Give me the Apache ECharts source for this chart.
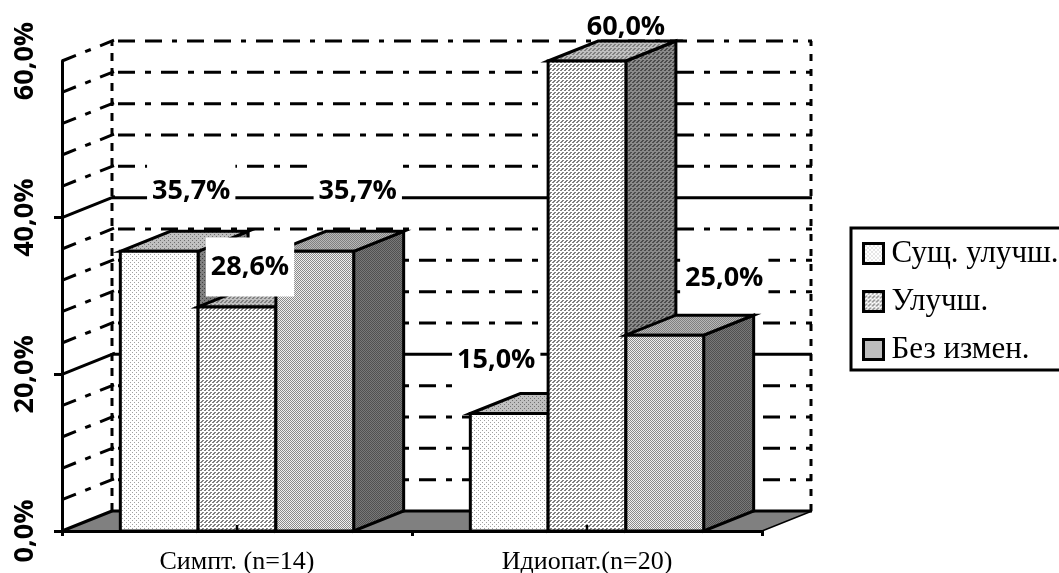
<!DOCTYPE html>
<html><head><meta charset="utf-8">
<style>html,body{margin:0;padding:0;background:#fff}#c{width:1059px;height:573px}</style>
<script src="https://cdn.jsdelivr.net/npm/echarts@6/dist/echarts.min.js"></script>
</head><body><div id="c"></div>
<script>
const categories = ['Симпт. (n=14)', 'Идиопат.(n=20)'];
const seriesNames = ['Сущ. улучш.', 'Улучш.', 'Без измен.'];
const strongImprovement = [35.7, 15.0];
const improvement = [28.6, 60.0];
const noChange = [35.7, 25.0];
const wallTicks = [0, 4, 8, 12, 16, 20, 24, 28, 32, 36, 40, 44, 48, 52, 56, 60];
const yAxisTicks = [0, 20, 40];
const yAxisLabels = [0, 20, 40, 60];

// presentation only
const DX = 50, DY = -20;
const labelNudge = [[[32,-60],[13,-40],[43,-60]], [[-13,-53],[39,-34],[59.5,-57]]];

function pattern(rows, fg, bg) {
  const h = rows.length, w = rows[0].length, cv = document.createElement('canvas');
  cv.width = w; cv.height = h;
  const g = cv.getContext('2d');
  for (let y = 0; y < h; y++) for (let x = 0; x < w; x++) {
    g.fillStyle = rows[y][x] === '#' ? fg : bg; g.fillRect(x, y, 1, 1);
  }
  return { image: cv, repeat: 'repeat' };
}
const DOTS = ['#...', '....', '..#.', '....'];
const HATCH = ['..##', '.##.', '##..', '....'];
const CHECK = ['#.', '.#'];
const fills = [
  { front: pattern(DOTS, '#a0a0a0', '#ffffff'), top: pattern(DOTS, '#707070', '#c0c0c0'), side: pattern(DOTS, '#404040', '#808080') },
  { front: pattern(HATCH, '#808080', '#ffffff'), top: pattern(HATCH, '#808080', '#c0c0c0'), side: pattern(HATCH, '#4c4c4c', '#8a8a8a') },
  { front: pattern(CHECK, '#8a8a8a', '#f0f0f0'), top: pattern(CHECK, '#808080', '#b8b8b8'), side: pattern(CHECK, '#505050', '#787878') }
];
const EDGE = { stroke: '#000', lineWidth: 3, lineJoin: 'miter' };

function poly(points, fill, z2) {
  return { type: 'polygon', z2: z2 || 0, shape: { points }, style: Object.assign({ fill }, EDGE) };
}
function seg(x1, y1, x2, y2, lineDash, width) {
  return { type: 'line', shape: { x1, y1, x2, y2 },
    style: { stroke: '#000', lineWidth: width || 3, lineDash: lineDash || null, fill: null } };
}

function renderWall(params, api) {
  const v = api.value(1), y = api.coord([0, v])[1];
  const cs = params.coordSys, L = cs.x, R = cs.x + cs.width;
  const els = [];
  if (v === 0) {
    els.push({ type: 'polygon', shape: { points: [[L, y], [R, y], [R + DX, y + DY], [L + DX, y + DY]] },
      style: { fill: '#808080', stroke: null } });
    els.push(seg(L + DX, y + DY, R + DX, y + DY));
    els.push(seg(L, y, L + DX, y + DY));
    els.push(seg(R, y, R + DX, y + DY, null, 1.5));
    const topY = api.coord([0, 60])[1] + DY;
    els.push(seg(L + DX, y + DY, L + DX, topY, [8, 7], 3));
    els.push(seg(R + DX - 1, y + DY, R + DX - 1, topY, [7, 8], 3));
  } else {
    const major = v % 20 === 0 && v !== 60;
    const dash = major ? null : (v === 60 ? [17, 10, 17, 10, 5, 10] : [17, 10, 6, 10]);
    const sideDash = major ? null : [15, 10, 6, 10];
    els.push(seg(L, y, L + DX + 3, y + DY - 1.2, sideDash));
    els.push(seg(L + DX + (major ? 0 : 6), y + DY, R + DX, y + DY, dash));
  }
  return { type: 'group', children: els };
}

function barGeometry(api) {
  const c = api.value(0), v = api.value(1);
  const p = api.coord([c, v]), base = api.coord([c, 0]);
  const w = api.size([1, 0])[0] * 2 / 9;
  return { p, base, w };
}
function makeBarRender(i) {
  return function (params, api) {
    const { p, base, w } = barGeometry(api);
    const x0 = p[0] - 1.5 * w + i * w, x1 = x0 + w, t = p[1], b = base[1];
    const f = fills[i];
    const kids = [
      poly([[x1, t], [x1 + DX, t + DY], [x1 + DX, b + DY], [x1, b]], f.side),
      poly([[x0, t], [x0 + DX, t + DY], [x1 + DX, t + DY], [x1, t]], f.top),
      poly([[x0, t], [x1, t], [x1, b], [x0, b]], f.front)
    ];
    if (i === 1) kids.push(seg(p[0], b - 6, p[0], b, null, 2.5));
    return { type: 'group', children: kids };
  };
}
function renderLabel(params, api) {
  const c = api.value(0), v = api.value(1), i = api.value(2);
  const p = api.coord([c, v]), w = api.size([1, 0])[0] * 2 / 9;
  const n = labelNudge[c][i];
  return {
    type: 'text', x: p[0] + (i - 1) * w + n[0], y: p[1] + n[1],
    style: {
      text: v.toFixed(1).replace('.', ',') + '%', fill: '#000',
      font: 'bold 27px "Open Sans"', align: 'center', verticalAlign: 'middle',
      backgroundColor: v === 60 ? null : '#fff', padding: v === 60 ? 0 : [16, 5]
    }
  };
}

const valueSets = [strongImprovement, improvement, noChange];
const barSeries = valueSets.map((vals, i) => ({
  type: 'custom', name: seriesNames[i], z: 3 + i, silent: true,
  encode: { x: 0, y: 1 }, renderItem: makeBarRender(i),
  itemStyle: { color: fills[i].front, borderColor: '#000', borderWidth: 3 },
  data: vals.map((v, c) => [c, v])
}));
const labelRows = [];
valueSets.forEach((vals, i) => vals.forEach((v, c) => labelRows.push([c, v, i])));

const chart = echarts.init(document.getElementById('c'), null, { renderer: 'canvas' });
chart.setOption({
  animation: false,
  backgroundColor: '#fff',
  grid: { left: 62, top: 61, width: 700, height: 470, outerBoundsMode: 'none' },
  xAxis: {
    type: 'category', data: categories, z: 10,
    axisLine: { lineStyle: { color: '#000', width: 3 } },
    axisTick: { show: true, length: 5, lineStyle: { color: '#000', width: 3 } },
    axisLabel: { color: '#000', fontFamily: '"Liberation Serif"', fontSize: 26, margin: 18 }
  },
  yAxis: {
    type: 'value', min: 0, max: 60, interval: 20, z: 10,
    splitLine: { show: false },
    axisLine: { show: true, lineStyle: { color: '#000', width: 3 } },
    axisTick: { show: true, length: 8, customValues: yAxisTicks, lineStyle: { color: '#000', width: 3 } },
    axisLabel: {
      color: '#000', fontFamily: '"Open Sans"', fontWeight: 'bold', fontSize: 27,
      rotate: 90, margin: 23, customValues: yAxisLabels,
      formatter: v => v.toFixed(1).replace('.', ',') + '%'
    }
  },
  legend: {
    orient: 'vertical', left: 851, top: 228, padding: [10, 40, 5, 11],
    backgroundColor: '#fff', borderColor: '#000', borderWidth: 3, borderRadius: 0,
    itemWidth: 20, itemHeight: 20, itemGap: 17, selectedMode: false,
    textStyle: { color: '#000', fontFamily: '"Liberation Serif"', fontSize: 31, padding: [0, 0, 0, 3] },
    data: seriesNames.map((name, i) => ({ name, icon: 'rect',
      itemStyle: { color: fills[i].front, borderColor: '#000', borderWidth: 3 } }))
  },
  series: [
    { type: 'custom', name: 'wall', z: 1, silent: true, encode: { x: 0, y: 1 }, renderItem: renderWall,
      data: wallTicks.map(v => [0, v]) },
    ...barSeries,
    { type: 'custom', name: 'labels', z: 8, silent: true, encode: { x: 0, y: 1 }, renderItem: renderLabel,
      data: labelRows }
  ]
});
</script></body></html>
